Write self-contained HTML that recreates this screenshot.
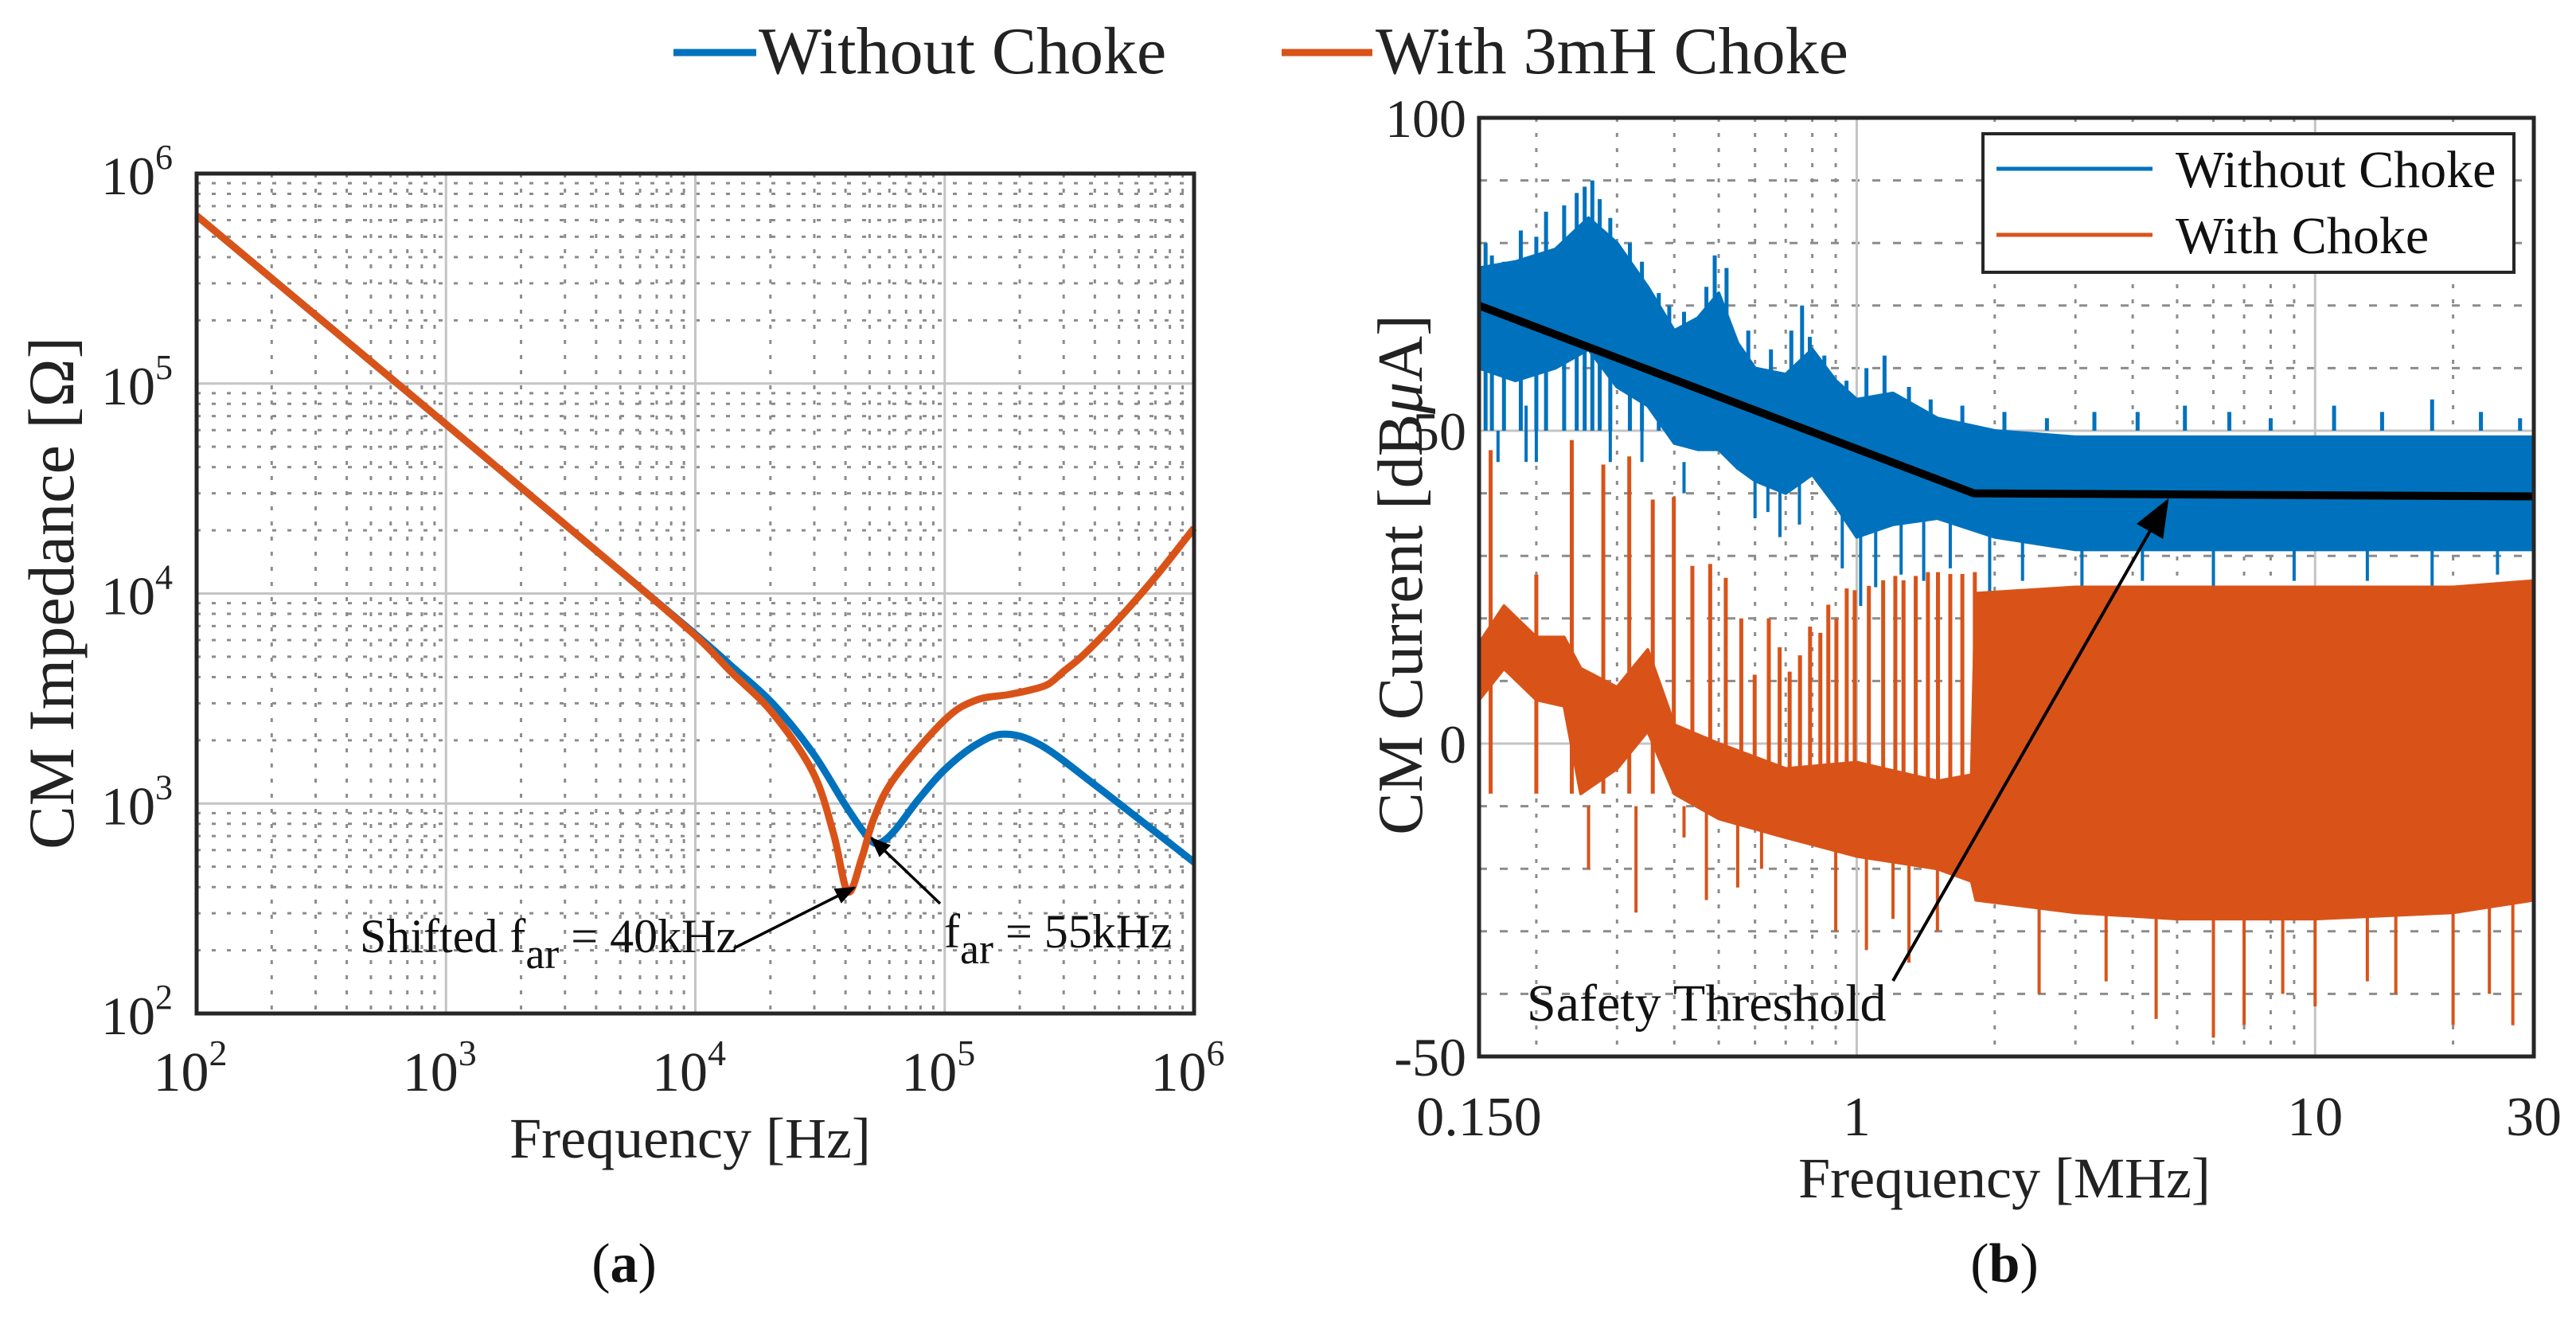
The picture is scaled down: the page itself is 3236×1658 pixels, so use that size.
<!DOCTYPE html>
<html><head><meta charset="utf-8"><style>
html,body{margin:0;padding:0;background:#fff;}
svg{display:block;font-family:"Liberation Serif",serif;}
</style></head><body>
<svg id="fig" width="3236" height="1658" viewBox="0 0 3236 1658" xmlns="http://www.w3.org/2000/svg">
<g id="gA"></g>
<g id="gB"></g>
<g>
  <line x1="846" y1="66" x2="950" y2="66" stroke="#0072BD" stroke-width="9"/>
  <text x="953" y="92" font-size="84" fill="#222">Without Choke</text>
  <line x1="1610" y1="66" x2="1724" y2="66" stroke="#D95319" stroke-width="9"/>
  <text x="1728" y="92" font-size="84" fill="#222">With 3mH Choke</text>
</g>
<text x="784" y="1610" font-size="70" text-anchor="middle" fill="#111">(<tspan font-weight="bold">a</tspan>)</text>
<text x="2518" y="1610" font-size="70" text-anchor="middle" fill="#111">(<tspan font-weight="bold">b</tspan>)</text>
</svg>
<script>
// ---------- Chart A data ----------
const aBlueF = [100,1000,5000,10000,14000,20400,29600,40000,48300,54000,62800,78700,100000,133000,173000,242000,410000,1000000];
const aBlueZ = [6.3e5,6.4e4,1.28e4,6.4e3,4.5e3,3.0e3,1.74e3,980,710,645,740,1050,1450,1900,2140,1900,1200,525];
const aOrF = [100,1000,5000,10000,14000,20400,29600,35800,40900,46500,52000,62800,100000,133000,180000,220000,260000,300000,360000,500000,700000,1000000];
const aOrZ = [6.3e5,6.4e4,1.28e4,6.3e3,4.2e3,2.7e3,1.41e3,720,380,550,850,1320,2500,3100,3300,3470,3700,4260,5100,7600,12000,20500];
const aXTickExp = [2,3,4,5,6];
const aYTickExp = [2,3,4,5,6];

// ---------- Chart B data ----------
const bBlueF  = [0.15,0.18,0.22,0.26,0.3,0.35,0.4,0.45,0.5,0.55,0.6,0.7,0.8,0.9,1.0,1.2,1.5,2,3,5,10,20,30];
const bBlueUp = [76,77,79,84,80,73,66,68,72,64,60,59,63,58,55,56,52,50,49,49,49,49,49];
const bBlueLo = [60,58,60,63,57,54,48,47,47,44,42,40,43,38,33,35,36,33,31,31,31,31,31];
const bBlueSpF = [0.155,0.16,0.17,0.185,0.2,0.21,0.23,0.245,0.255,0.265,0.275,0.29,0.32,0.34,0.37,0.39,0.42,0.47,0.49,0.52,0.58,0.65,0.72,0.76,0.79,0.85,0.95,1.05,1.15,1.3,1.45,1.7,2.1,2.6,3.3,4.1,5.2,6.5,8,11,14,18,23,28];
const bBlueSpV = [80,78,77,82,81,85,86,88,89,90,87,84,80,77,72,70,69,73,78,76,66,63,66,70,65,62,58,60,62,57,55,54,53,52,53,53,54,53,52,54,53,55,53,52];
const bBlueDipF = [0.165,0.19,0.2,0.29,0.34,0.42,0.46,0.6,0.64,0.68,0.75,0.93,1.02,1.1,1.25,1.4,1.6,1.95,2.3,3.1,4.2,6,9,13,18,25];
const bBlueDipV = [50,54,50,50,52,40,45,36,37,33,35,28,22,25,27,26,28,24,26,25,26,25,26,26,25,27];
const bOrF  = [0.15,0.17,0.2,0.23,0.25,0.3,0.35,0.4,0.5,0.7,1.0,1.5,1.78,1.82,3,5,10,20,30];
const bOrUp = [16,22,17,17,12,9,15,3,0,-4,-3,-6,-5,24,25,25,25,25,26];
const bOrLo = [7,12,7,6,-8,-4,2,-8,-12,-15,-18,-20,-22,-25,-27,-28,-28,-27,-25];
const bPeakF = [0.159,0.200,0.239,0.280,0.319,0.359,0.399,0.438,0.479,0.518,0.560,0.599,0.643,0.679,0.714,0.752,0.791,0.833,0.867,0.903,0.951,0.990,1.063,1.142,1.214,1.265,1.345,1.43,1.504,1.6,1.70,1.81];
const bPeakV = [46.9,27,48.5,44.6,45.9,39,39.4,28.4,28.7,26.5,20,11,20,15.4,11.5,14.1,18.7,17.7,22.2,20,24.8,24.5,25.2,26.1,26.8,26.1,26.8,27.4,27.4,27.1,27.1,27.4];
const bDownF = [0.26,0.33,0.42,0.47,0.55,0.62,0.9,1.05,1.2,1.3,1.5,2.5,3.5,4.5,6,7,8.5,10,13,15,20,24,27];
const bDownV = [-20,-27,-15,-25,-23,-20,-30,-33,-28,-35,-30,-40,-38,-44,-47,-45,-40,-42,-38,-40,-45,-40,-45];
const bThrF = [0.15,1.8,30];
const bThrV = [70,40,39.5];
const bYTicks = [100,50,0,-50];
const bXTicks = [0.15,1,10,30];
const bXTickLabels = ["0.150","1","10","30"];

const NS = "http://www.w3.org/2000/svg";
function mk(parent, tag, attrs){ const e=document.createElementNS(NS,tag); for(const k in attrs) e.setAttribute(k,attrs[k]); parent.appendChild(e); return e; }

// ---------- Chart A ----------
const A = {l:247,r:1500,t:218,b:1273};
const xA = f => A.l + (Math.log10(f)-2)*(A.r-A.l)/4;
const yA = z => A.b - (Math.log10(z)-2)*(A.b-A.t)/4;
const gA = document.getElementById('gA');
for(let e=2;e<6;e++) for(let m=2;m<=9;m++){
  const x = xA(m*Math.pow(10,e));
  const ln = mk(gA,'line',{x1:x,y1:A.t,x2:x,y2:A.b,stroke:'#8c8c8c','stroke-width':3,'stroke-dasharray':'5 14'});
   
  const y = yA(m*Math.pow(10,e));
  const ln2 = mk(gA,'line',{x1:A.l,y1:y,x2:A.r,y2:y,stroke:'#8c8c8c','stroke-width':3,'stroke-dasharray':'5 14'});
   
}
aXTickExp.forEach(e=>{
  const x=xA(Math.pow(10,e));
  const g = mk(gA,'line',{x1:x,y1:A.t,x2:x,y2:A.b,stroke:'#c4c4c4','stroke-width':3});
   
  const t = mk(gA,'text',{x:x-8,y:1370,'font-size':70,'text-anchor':'middle',fill:'#222'});
   
  t.innerHTML = '10<tspan dy="-32" font-size="46">'+e+'</tspan>';
});
aYTickExp.forEach(e=>{
  const y=yA(Math.pow(10,e));
  const g = mk(gA,'line',{x1:A.l,y1:y,x2:A.r,y2:y,stroke:'#c4c4c4','stroke-width':3});
   
  const t = mk(gA,'text',{x:172,y:y+26,'font-size':68,'text-anchor':'middle',fill:'#222'});
   
  t.innerHTML = '10<tspan dy="-32" font-size="44">'+e+'</tspan>';
});
function crPath(px,py){
  let d='M'+px[0]+','+py[0];
  for(let i=0;i<px.length-1;i++){
    const x0=px[Math.max(0,i-1)],y0=py[Math.max(0,i-1)],x1=px[i],y1=py[i],x2=px[i+1],y2=py[i+1],x3=px[Math.min(px.length-1,i+2)],y3=py[Math.min(px.length-1,i+2)];
    d+=' C'+(x1+(x2-x0)/6)+','+(y1+(y2-y0)/6)+' '+(x2-(x3-x1)/6)+','+(y2-(y3-y1)/6)+' '+x2+','+y2;
  }
  return d;
}
const pBlue = mk(gA,'path',{d:crPath(aBlueF.map(xA),aBlueZ.map(yA)),fill:'none',stroke:'#0072BD','stroke-width':9,'stroke-linejoin':'round'});
 
const pOr = mk(gA,'path',{d:crPath(aOrF.map(xA),aOrZ.map(yA)),fill:'none',stroke:'#D95319','stroke-width':9,'stroke-linejoin':'round'});
 
const frA = mk(gA,'rect',{x:A.l,y:A.t,width:A.r-A.l,height:A.b-A.t,fill:'none',stroke:'#262626','stroke-width':5});
 
const defs = mk(document.getElementById('fig'),'defs',{});
const mkr = mk(defs,'marker',{id:'ah',refX:9,refY:5,orient:'auto',markerUnits:'userSpaceOnUse'});
mkr.setAttribute('viewBox','0 0 10 10'); mkr.setAttribute('markerWidth','26'); mkr.setAttribute('markerHeight','26');
mk(mkr,'path',{d:'M0,1 L10,5 L0,9 Z',fill:'#000'});
const ar1 = mk(gA,'line',{x1:922,y1:1191,x2:1073,y2:1115,stroke:'#000','stroke-width':3.5,'marker-end':'url(#ah)'});
 
const ar2 = mk(gA,'line',{x1:1181,y1:1135,x2:1095,y2:1053,stroke:'#000','stroke-width':3.5,'marker-end':'url(#ah)'});
 
const an1 = mk(gA,'text',{x:452,y:1196,'font-size':60,fill:'#111'});
 
an1.innerHTML='Shifted f<tspan dy="20" font-size="54">ar</tspan><tspan dy="-20"> = 40kHz</tspan>';
const an2 = mk(gA,'text',{x:1186,y:1190,'font-size':60,fill:'#111'});
 
an2.innerHTML='f<tspan dy="20" font-size="54">ar</tspan><tspan dy="-20"> = 55kHz</tspan>';
const xtA = mk(gA,'text',{x:867,y:1454,'font-size':72,'text-anchor':'middle',fill:'#222'});
  xtA.textContent='Frequency [Hz]';
const ytA = mk(gA,'text',{x:0,y:0,'font-size':82,'text-anchor':'middle',fill:'#222',transform:'translate(92,745) rotate(-90)'});
  ytA.textContent='CM Impedance [Ω]';

// ---------- Chart B ----------
const B = {l:1858,r:3183,t:148,b:1327};
const xB = f => B.l + Math.log10(f/0.15)*(B.r-B.l)/Math.log10(200);
const yB = d => B.b - (d+50)*(B.b-B.t)/150;
const gB = document.getElementById('gB');
[0.2,0.3,0.4,0.5,0.6,0.7,0.8,0.9,2,3,4,5,6,7,8,9,20].forEach(f=>{
  const l = mk(gB,'line',{x1:xB(f),y1:B.t,x2:xB(f),y2:B.b,stroke:'#8c8c8c','stroke-width':3,'stroke-dasharray':'5 14'});
   
});
[-40,-30,-20,-10,10,20,30,40,60,70,80,90].forEach(v=>{
  const l = mk(gB,'line',{x1:B.l,y1:yB(v),x2:B.r,y2:yB(v),stroke:'#8c8c8c','stroke-width':3,'stroke-dasharray':'10 16'});
   
});
bXTicks.forEach((f,i)=>{
  const x = xB(f);
  if(f===1||f===10){ const l=mk(gB,'line',{x1:x,y1:B.t,x2:x,y2:B.b,stroke:'#c4c4c4','stroke-width':3});
      }
  const t = mk(gB,'text',{x:x,y:1426,'font-size':70,'text-anchor':'middle',fill:'#222'});
    t.textContent=bXTickLabels[i];
});
bYTicks.forEach(v=>{
  const y = yB(v);
  const l=mk(gB,'line',{x1:B.l,y1:y,x2:B.r,y2:y,stroke:'#c4c4c4','stroke-width':3});
   
  const t = mk(gB,'text',{x:1842,y:y+24,'font-size':68,'text-anchor':'end',fill:'#222'});
    t.textContent=String(v);
});
function band(F,U,L){
  let pts=F.map((f,i)=>xB(f)+','+yB(U[i]));
  for(let i=F.length-1;i>=0;i--) pts.push(xB(F[i])+','+yB(L[i]));
  return pts.join(' ');
}
const bb = mk(gB,'polygon',{points:band(bBlueF,bBlueUp,bBlueLo),fill:'#0072BD',stroke:'#0072BD','stroke-width':4,'stroke-linejoin':'round'});
 
bBlueSpF.forEach((f,i)=>{
  const l = mk(gB,'line',{x1:xB(f),y1:yB(50),x2:xB(f),y2:yB(bBlueSpV[i]),stroke:'#0072BD','stroke-width':5});
   
});
bBlueDipF.forEach((f,i)=>{
  const l = mk(gB,'line',{x1:xB(f),y1:yB(45),x2:xB(f),y2:yB(bBlueDipV[i]),stroke:'#0072BD','stroke-width':4});
   
});
const ob = mk(gB,'polygon',{points:band(bOrF,bOrUp,bOrLo),fill:'#D95319',stroke:'#D95319','stroke-width':4,'stroke-linejoin':'round'});
 
bPeakF.forEach((f,i)=>{
  const l = mk(gB,'line',{x1:xB(f),y1:yB(-8),x2:xB(f),y2:yB(bPeakV[i]),stroke:'#D95319','stroke-width':5});
   
});
bDownF.forEach((f,i)=>{
  const l = mk(gB,'line',{x1:xB(f),y1:yB(-10),x2:xB(f),y2:yB(bDownV[i]),stroke:'#D95319','stroke-width':4});
   
});
const thr = mk(gB,'polyline',{points:bThrF.map((f,i)=>xB(f)+','+yB(bThrV[i])).join(' '),fill:'none',stroke:'#000','stroke-width':10});
 
const mkr2 = mk(defs,'marker',{id:'ah2',refX:9,refY:5,orient:'auto',markerUnits:'userSpaceOnUse'});
mkr2.setAttribute('viewBox','0 0 10 10'); mkr2.setAttribute('markerWidth','48'); mkr2.setAttribute('markerHeight','48');
mk(mkr2,'path',{d:'M0,1 L10,5 L0,9 Z',fill:'#000'});
const sa = mk(gB,'line',{x1:2378,y1:1232,x2:2722,y2:630,stroke:'#000','stroke-width':4,'marker-end':'url(#ah2)'});
 
const stt = mk(gB,'text',{x:1918,y:1282,'font-size':66,fill:'#111'});
  stt.textContent='Safety Threshold';
const frB = mk(gB,'rect',{x:B.l,y:B.t,width:B.r-B.l,height:B.b-B.t,fill:'none',stroke:'#262626','stroke-width':5});
 
const lg = mk(gB,'rect',{x:2491,y:168,width:667,height:174,fill:'#fff',stroke:'#262626','stroke-width':4});
 
const l1 = mk(gB,'line',{x1:2508,y1:212,x2:2704,y2:212,stroke:'#0072BD','stroke-width':5});
 
const t1 = mk(gB,'text',{x:2733,y:235,'font-size':66,fill:'#111'});
  t1.textContent='Without Choke';
const l2 = mk(gB,'line',{x1:2508,y1:295,x2:2704,y2:295,stroke:'#D95319','stroke-width':5});
 
const t2 = mk(gB,'text',{x:2733,y:318,'font-size':66,fill:'#111'});
  t2.textContent='With Choke';
const xtB = mk(gB,'text',{x:2518,y:1504,'font-size':72,'text-anchor':'middle',fill:'#222'});
  xtB.textContent='Frequency [MHz]';
const ytB = mk(gB,'text',{x:0,y:0,'font-size':80,'text-anchor':'middle',fill:'#222',transform:'translate(1786,722) rotate(-90)'});
 
ytB.innerHTML='CM Current [dB<tspan font-style="italic">μ</tspan>A]';
</script>
</body></html>
